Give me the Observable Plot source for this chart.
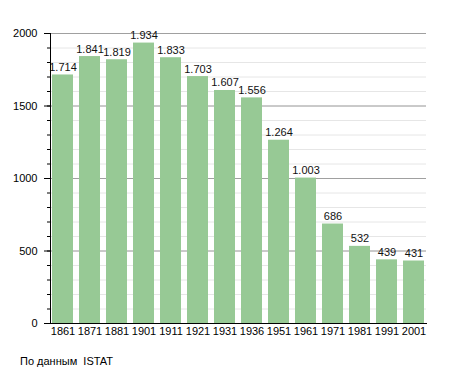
<!DOCTYPE html>
<html><head><meta charset="utf-8">
<script src="https://cdn.jsdelivr.net/npm/d3@7"></script>
<script src="https://cdn.jsdelivr.net/npm/@observablehq/plot@0.6"></script>
<style>
body{margin:0;background:#fff;font-family:"Liberation Sans",Arial,sans-serif;}
#cap{font-size:11px;margin:10px 0 0 20px;color:#000;}
</style></head><body>
<div id="chart"></div>
<div id="cap">По данным&nbsp; ISTAT</div>
<script>
const years = ["1861","1871","1881","1901","1911","1921","1931","1936","1951","1961","1971","1981","1991","2001"];
const population = [1714,1841,1819,1934,1833,1703,1607,1556,1264,1003,686,532,439,431];
const labels = ["1.714","1.841","1.819","1.934","1.833","1.703","1.607","1.556","1.264","1.003","686","532","439","431"];
const majorTicks = [0,500,1000,1500,2000];
const minorTicks = d3.range(0,2001,100);

const data = years.map((y,i)=>({year:y, value:population[i], label:labels[i]}));

const chart = Plot.plot({
  width:455, height:345,
  marginLeft:50, marginRight:29, marginTop:33, marginBottom:22,
  style:{fontFamily:"Liberation Sans, Arial, sans-serif", fontSize:"11px", color:"#000", background:"#fff"},
  x:{domain:years, paddingInner:0.23, paddingOuter:0.03, label:null},
  y:{domain:[0,2000], label:null},
  marks:[
    Plot.ruleY(minorTicks, {stroke:"#e6e6e6", strokeWidth:1}),
    Plot.ruleY(majorTicks, {stroke:"#a0a0a0", strokeWidth:1}),
    Plot.barY(data, {x:"year", y:"value", fill:"#97c995"}),
    Plot.text(data, {x:"year", y:"value", text:"label", lineAnchor:"bottom", dy:-4, fill:"#111", fontSize:11}),
    Plot.axisY(minorTicks, {tickSize:3, tickFormat:()=>"", stroke:"#000"}),
    Plot.axisY(majorTicks, {tickSize:6, tickPadding:7, tickFormat:d=>String(d), stroke:"#000"}),
    Plot.axisX({tickSize:0, tickPadding:4}),
    Plot.frame({anchor:"left", stroke:"#000"}),
    Plot.frame({anchor:"bottom", stroke:"#000"})
  ]
});
document.getElementById("chart").appendChild(chart);
</script>
</body></html>
